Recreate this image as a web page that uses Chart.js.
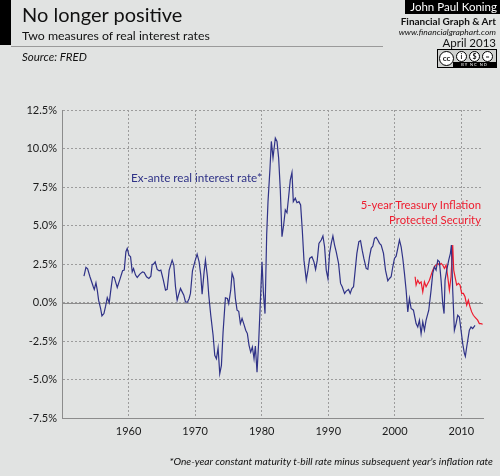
<!DOCTYPE html>
<html>
<head>
<meta charset="utf-8">
<script src="https://cdn.jsdelivr.net/npm/chart.js@4"></script>
<style>
  body { margin:0; background:#e1e3e2; }
  #wrap { position:relative; width:500px; height:476px; overflow:hidden; font-family:Lato, "Open Sans", sans-serif; color:#111; }
  #wrap canvas { position:absolute; left:0; top:0; }
  .t { position:absolute; white-space:nowrap; }
  #bar { position:absolute; left:0; top:0; width:11px; height:45px; background:#000; }
  #rule { position:absolute; left:11px; top:46px; width:372px; height:1px; background:#9a9a9a; }
  #jpk { position:absolute; right:0; top:0; width:95px; height:14px; background:#000; color:#fff; font-size:11.5px; line-height:14px; text-align:right; padding-right:3px; box-sizing:border-box; white-space:nowrap; }
  #cc { position:absolute; left:437px; top:49px; width:60px; height:19px; background:#cfd1cf; border:1px solid #000; box-sizing:border-box; }
  #cc .c { position:absolute; top:1px; width:11px; height:11px; border:1.5px solid #000; border-radius:50%; background:#fff; box-sizing:border-box; font-size:7px; line-height:8px; text-align:center; font-weight:bold; }
  #cc .b { position:absolute; left:15px; right:0; bottom:0; height:5px; background:#000; color:#fff; font-size:4px; line-height:5px; letter-spacing:1px; text-align:center; }
</style>
</head>
<body>
<div id="wrap">
  <canvas id="realRates" width="500" height="476"></canvas>
  <div id="bar"></div>
  <div class="t" style="left:22px;top:2px;font-size:20px;">No longer positive</div>
  <div class="t" style="left:22px;top:28px;font-size:12.3px;">Two measures of real interest rates</div>
  <div id="rule"></div>
  <div class="t" style="left:22px;top:50px;font-size:11.5px;font-style:italic;">Source: FRED</div>
  <div id="jpk">John Paul Koning</div>
  <div class="t" style="right:4px;top:15px;font-size:10px;font-weight:bold;">Financial Graph &amp; Art</div>
  <div class="t" style="right:4px;top:27px;font-size:8.5px;font-style:italic;">www.financialgraphart.com</div>
  <div class="t" style="right:4px;top:36px;font-size:11.5px;">April 2013</div>
  <div id="cc">
    <div class="c" style="left:1px;width:15px;height:15px;top:1px;font-size:8px;line-height:12px;">cc</div>
    <div class="c" style="left:18px;">i</div>
    <div class="c" style="left:31px;">$</div>
    <div class="c" style="left:44px;">=</div>
    <div class="b">BY NC ND</div>
  </div>
  <div class="t" style="left:131px;top:170px;font-size:11.7px;color:#2f3287;">Ex-ante real interest rate*</div>
  <div class="t" style="right:19px;top:197px;font-size:11.3px;color:#ee1c2e;text-align:right;line-height:15px;">5-year Treasury Inflation<br>Protected Security</div>
  <div class="t" style="right:7px;top:455px;font-size:10.2px;font-style:italic;">*One-year constant maturity t-bill rate minus subsequent year's inflation rate</div>
</div>
<script>
// ex-ante real rate (1y CMT minus next year's inflation)
var exanteYears = [1953.3,1953.6,1953.85,1954.2,1954.7,1954.85,1955.1,1955.3,1955.5,1955.8,1956.0,1956.3,1956.55,1956.8,1957.1,1957.3,1957.6,1957.85,1958.3,1958.7,
  1959.1,1959.35,1959.6,1959.8,1960.05,1960.3,1960.55,1960.75,1961.05,1961.3,1961.7,1962.1,1962.35,1962.7,1963.05,1963.35,1963.55,1963.75,1964.0,1964.3,
  1964.6,1964.85,1965.2,1965.55,1965.8,1966.1,1966.55,1966.8,1967.05,1967.3,1967.5,1967.8,1968.05,1968.3,1968.55,1968.85,1969.1,1969.3,1969.6,1969.95,
  1970.3,1970.6,1970.85,1971.05,1971.35,1971.55,1971.85,1972.05,1972.35,1972.7,1972.95,1973.2,1973.45,1973.7,1973.95,1974.2,1974.55,1974.85,1975.05,1975.35,
  1975.55,1975.8,1976.05,1976.3,1976.55,1976.8,1977.05,1977.3,1977.6,1977.85,1978.1,1978.35,1978.6,1978.85,1979.05,1979.3,1979.55,1979.8,1980.05,1980.25,
  1980.5,1980.75,1980.95,1981.25,1981.45,1981.7,1982.05,1982.3,1982.55,1982.8,1983.05,1983.3,1983.55,1983.8,1984.05,1984.3,1984.55,1984.75,1985.05,1985.3,
  1985.6,1985.85,1986.1,1986.35,1986.7,1986.95,1987.2,1987.55,1987.85,1988.1,1988.35,1988.6,1988.95,1989.2,1989.45,1989.7,1989.95,1990.2,1990.45,1990.7,
  1990.95,1991.2,1991.55,1991.85,1992.1,1992.45,1992.7,1993.05,1993.3,1993.55,1993.8,1994.05,1994.3,1994.6,1994.85,1995.1,1995.35,1995.7,1995.95,1996.2,
  1996.45,1996.7,1996.95,1997.2,1997.45,1997.7,1997.95,1998.3,1998.6,1998.95,1999.2,1999.45,1999.7,1999.95,2000.2,2000.45,2000.7,2000.95,2001.2,2001.45,
  2001.7,2001.95,2002.2,2002.45,2002.8,2003.2,2003.45,2003.7,2003.95,2004.2,2004.45,2004.7,2005.1,2005.45,2005.7,2005.95,2006.2,2006.45,2006.7,2006.95,
  2007.2,2007.4,2007.55,2007.8,2008.1,2008.35,2008.5,2008.7,2008.95,2009.2,2009.45,2009.7,2009.95,2010.2,2010.45,2010.6,2010.8,2011.0,2011.2,2011.45,
  2011.7,2012.05];
var exanteRate = [1.71,2.28,2.19,1.67,1.02,0.85,1.28,0.8,0.15,-0.39,-0.87,-0.72,-0.24,0.32,-0.02,0.69,1.67,1.63,0.98,1.5,
  2.06,2.1,3.3,3.51,3.08,2.97,1.99,2.21,1.78,1.63,1.84,1.99,1.95,1.67,1.56,1.71,2.47,2.49,2.64,2.15,
  2.06,2.1,1.5,0.8,0.85,2.1,2.75,2.43,1.02,0.15,0.48,0.91,0.69,0.48,0.04,0.02,0.26,0.59,2.06,2.64,
  3.14,2.64,1.78,0.54,1.99,2.75,1.67,0.48,-0.83,-2.13,-3.43,-3.65,-2.95,-4.62,-4.08,-1.91,0.30,0.26,-0.07,0.8,
  1.89,1.56,0.26,-0.5,-0.57,-1.37,-1.04,-1.37,-1.8,-2.02,-2.78,-3.22,-2.89,-3.65,-2.83,-4.52,-2.57,0.04,2.64,0.69,
  -0.72,4.38,6.55,8.72,10.46,9.4,10.68,10.46,9.37,7.31,4.27,5.03,6.01,5.83,6.87,7.96,8.44,6.55,6.77,6.48,
  6.55,6.33,4.71,2.75,1.45,2.1,2.86,2.97,2.64,2.15,2.75,3.84,4.06,4.32,3.62,2.1,1.56,3.19,3.84,4.32,
  3.73,3.29,2.54,1.24,1.02,0.59,0.74,0.85,0.59,0.91,1.02,2.1,3.19,3.95,4.01,3.4,2.86,2.21,2.15,2.97,
  3.52,3.67,4.17,4.23,4.06,3.84,3.73,3.19,2.1,1.41,1.56,1.67,2.32,2.86,3.01,3.52,4.06,3.62,2.86,1.89,
  0.8,-0.61,0.26,-0.39,-0.5,-1.37,-1.59,-1.15,-2.02,-1.26,-1.8,-1.15,-0.5,0.8,1.89,2.32,2.1,2.75,2.64,1.45,
  -0.07,-0.72,1.45,2.1,2.75,3.19,3.73,0.8,-1.8,-1.37,-0.83,-0.94,-1.8,-2.67,-3.3,-3.5,-2.89,-2.34,-1.8,-1.59,
  -1.69,-1.48];

// 5-year TIPS yield
var tipsYears = [2003.05,2003.2,2003.45,2003.7,2003.95,2004.2,2004.45,2004.7,2004.95,2005.2,2005.45,2005.7,2005.95,2006.2,2006.45,2006.7,2006.95,2007.2,2007.45,2007.7,
  2007.95,2008.2,2008.45,2008.7,2008.85,2009.05,2009.3,2009.55,2009.8,2010.05,2010.3,2010.55,2010.8,2011.05,2011.3,2011.55,2011.8,2012.1,2012.45,2012.7,
  2012.95,2013.2];
var tipsRate = [1.67,1.13,1.45,1.24,1.34,0.69,1.34,1.02,1.24,1.45,1.78,2.1,2.32,2.43,2.54,2.43,2.54,2.43,2.21,2.43,
  1.67,0.8,1.67,3.73,2.1,1.67,1.13,1.24,1.13,0.59,0.59,0.37,-0.17,0.15,-0.28,-0.61,-0.83,-0.98,-1.15,-1.37,
  -1.37,-1.41];

var xTicks = [1960,1970,1980,1990,2000,2010];
var yTicks = [-7.5,-5,-2.5,0,2.5,5,7.5,10,12.5];

function toPoints(xs, ys){
  return xs.map(function(x, i){ return {x:x, y:ys[i]} });
}

var tickFont = {family:'Lato', size:11};

// solid line at 0%
var zeroLine = {
  id:'zeroLine',
  beforeDatasetsDraw: function(chart){
    var ctx = chart.ctx, a = chart.chartArea;
    var y = Math.round(chart.scales.y.getPixelForValue(0)) + 0.5;
    ctx.save();
    ctx.strokeStyle = '#8c8c8c';
    ctx.lineWidth = 1;
    ctx.beginPath();
    ctx.moveTo(a.left, y);
    ctx.lineTo(a.right, y);
    ctx.stroke();
    ctx.restore();
  }
};

var ratesChart = new Chart(document.getElementById('realRates'), {
  type: 'line',
  data: {
    datasets: [{
      label: 'Ex-ante real interest rate*',
      data: toPoints(exanteYears, exanteRate),
      borderColor: '#2f3287',
      borderWidth: 1.2,
      pointRadius: 0,
      tension: 0
    }, {
      label: '5-year Treasury Inflation Protected Security',
      data: toPoints(tipsYears, tipsRate),
      borderColor: '#ee1c2e',
      borderWidth: 1.2,
      pointRadius: 0,
      tension: 0
    }]
  },
  options: {
    responsive: false,
    animation: false,
    layout: { padding: {left:0, top:110, right:17, bottom:28} },
    plugins: { legend:{display:false}, tooltip:{enabled:false} },
    scales: {
      x: {
        type: 'linear',
        min: 1950,
        max: 2013.25,
        afterBuildTicks: function(s){ s.ticks = xTicks.map(function(v){ return {value:v} }) },
        afterFit: function(s){ s.height = 30; s.paddingLeft = 0; s.paddingRight = 0; },
        ticks: { callback: function(v){ return String(v) }, font: tickFont, color:'#1a1a1a', padding:7, maxRotation:0 },
        grid: { color:'#9c9c9c', lineWidth:1, drawTicks:false },
        border: { color:'#8c8c8c', width:1, dash:[2,2] }
      },
      y: {
        min: -7.5,
        max: 12.5,
        afterBuildTicks: function(s){ s.ticks = yTicks.map(function(v){ return {value:v} }) },
        afterFit: function(s){ s.width = 62; s.paddingTop = 0; s.paddingBottom = 0; },
        ticks: { callback: function(v){ return v.toFixed(1) + '%' }, font: tickFont, color:'#1a1a1a', padding:5 },
        grid: { color:'#9c9c9c', lineWidth:1, drawTicks:false },
        border: { color:'#8c8c8c', width:1, dash:[2,2] }
      }
    }
  },
  plugins: [zeroLine]
});
</script>
</body>
</html>
